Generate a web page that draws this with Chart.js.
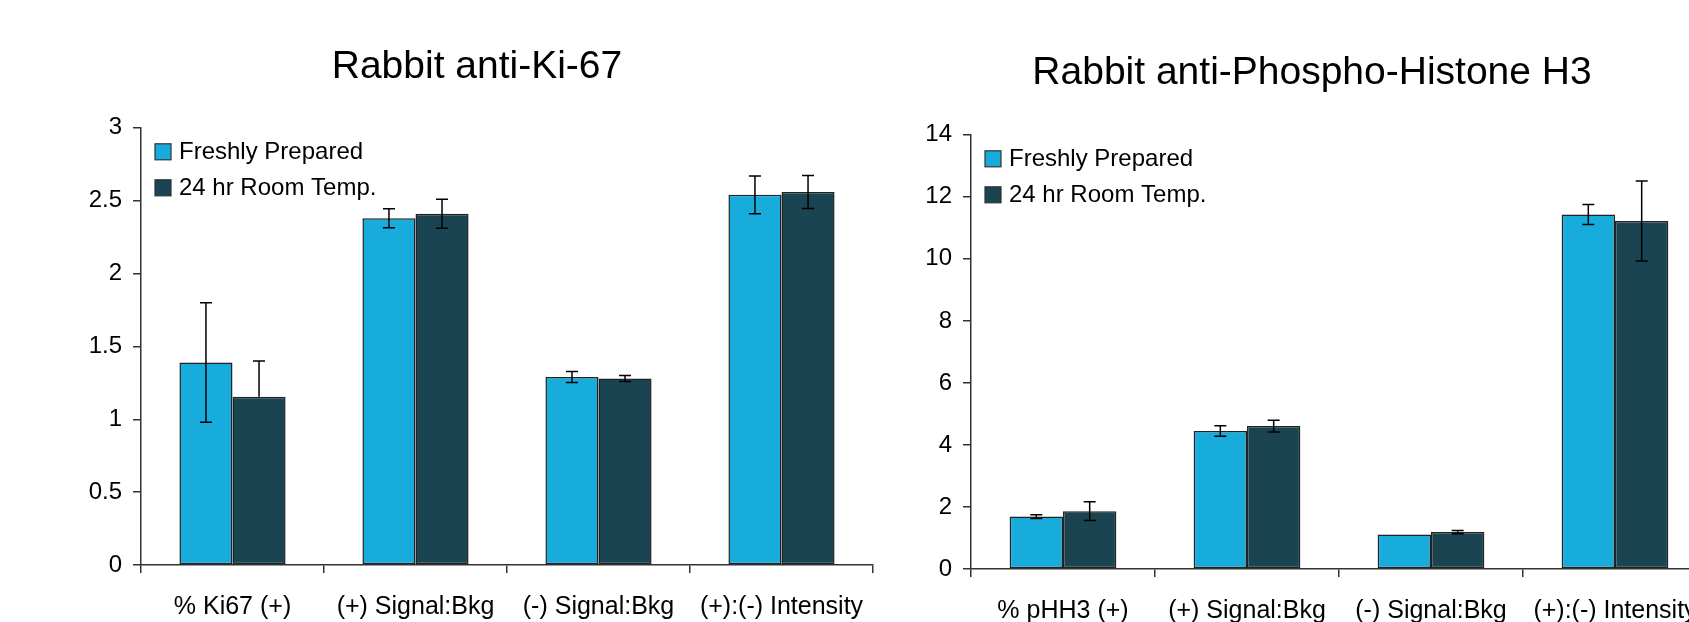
<!DOCTYPE html>
<html>
<head>
<meta charset="utf-8">
<script src="https://cdn.jsdelivr.net/npm/chart.js@4.4.1/dist/chart.umd.min.js"></script>
<style>
  html, body { margin: 0; padding: 0; background: #fff; overflow: hidden; }
  body { width: 1689px; height: 622px; position: relative; }
  canvas { position: absolute; top: 0; }
  #ki67 { left: 0; }
  #phh3 { left: 880px; }
</style>
</head>
<body>
<canvas id="ki67"></canvas>
<canvas id="phh3"></canvas>
<script>
// Ki-67 panel
const ki67Labels = ['% Ki67 (+)', '(+) Signal:Bkg', '(-) Signal:Bkg', '(+):(-) Intensity'];
const ki67Fresh = [1.39, 2.38, 1.29, 2.54];
const ki67FreshErrHi = [0.41, 0.065, 0.037, 0.13];
const ki67FreshErrLo = [0.41, 0.065, 0.037, 0.13];
const ki67Room = [1.155, 2.41, 1.28, 2.56];
const ki67RoomErrHi = [0.245, 0.10, 0.02, 0.113];
const ki67RoomErrLo = [0, 0.10, 0.02, 0.113];

// Phospho-Histone H3 panel
const phh3Labels = ['% pHH3 (+)', '(+) Signal:Bkg', '(-) Signal:Bkg', '(+):(-) Intensity'];
const phh3Fresh = [1.69, 4.45, 1.11, 11.43];
const phh3FreshErr = [0.06, 0.17, 0, 0.32];
const phh3Room = [1.865, 4.61, 1.19, 11.22];
const phh3RoomErr = [0.3, 0.19, 0.05, 1.29];

const seriesNames = ['Freshly Prepared', '24 hr Room Temp.'];
const FRESH_COLOR = '#17acdc';
const ROOM_COLOR = '#1a4451';
const FONT = '"Liberation Sans", Arial, sans-serif';

// error bars drawn on top of each bar
const errorBars = {
  id: 'errorBars',
  afterDatasetsDraw(chart) {
    const ctx = chart.ctx;
    const y = chart.scales.y;
    ctx.save();
    ctx.strokeStyle = '#000';
    ctx.lineWidth = 1.5;
    chart.data.datasets.forEach((ds, i) => {
      chart.getDatasetMeta(i).data.forEach((bar, j) => {
        const v = ds.data[j];
        const hi = ds.errHi[j], lo = ds.errLo[j];
        if (!hi && !lo) return;
        const yHi = y.getPixelForValue(v + hi);
        const yLo = y.getPixelForValue(v - lo);
        ctx.beginPath();
        ctx.moveTo(bar.x, yHi);
        ctx.lineTo(bar.x, yLo);
        if (hi) { ctx.moveTo(bar.x - 6, yHi); ctx.lineTo(bar.x + 6, yHi); }
        if (lo) { ctx.moveTo(bar.x - 6, yLo); ctx.lineTo(bar.x + 6, yLo); }
        ctx.stroke();
      });
    });
    ctx.restore();
  }
};

// legend sits inside the plot, top-left
const insideLegend = {
  id: 'insideLegend',
  afterDraw(chart) {
    const ctx = chart.ctx;
    const a = chart.chartArea;
    ctx.save();
    ctx.font = '24px ' + FONT;
    ctx.textBaseline = 'middle';
    chart.data.datasets.forEach((ds, i) => {
      const sx = a.left + 14, sy = a.top + 16 + i * 36;
      ctx.fillStyle = ds.backgroundColor;
      ctx.fillRect(sx, sy, 16, 16);
      ctx.strokeStyle = '#333';
      ctx.lineWidth = 1.2;
      ctx.strokeRect(sx, sy, 16, 16);
      ctx.fillStyle = '#000';
      ctx.fillText(ds.label, sx + 24, sy + 9);
    });
    ctx.restore();
  }
};

function makeChart(id, title, labels, fresh, freshHi, freshLo, room, roomHi, roomLo, yMax, step, geo) {
  const canvas = document.getElementById(id);
  canvas.width = geo.width;
  canvas.height = 622;
  return new Chart(canvas, {
    type: 'bar',
    data: {
      labels: labels,
      datasets: [
        { label: seriesNames[0], data: fresh, errHi: freshHi, errLo: freshLo,
          backgroundColor: FRESH_COLOR },
        { label: seriesNames[1], data: room, errHi: roomHi, errLo: roomLo,
          backgroundColor: ROOM_COLOR }
      ]
    },
    options: {
      responsive: false,
      animation: false,
      layout: { padding: { left: geo.padLeft, right: geo.padRight, top: 0, bottom: 0 } },
      datasets: {
        bar: {
          categoryPercentage: 0.58,
          barPercentage: 1.0,
          borderColor: '#222',
          borderWidth: 1.5,
          borderSkipped: false
        }
      },
      plugins: {
        legend: { display: false },
        tooltip: { enabled: false },
        title: {
          display: true,
          text: title,
          color: '#000',
          font: { family: FONT, size: 39, weight: 'normal' },
          padding: { top: geo.titleTop, bottom: geo.titleBottom }
        }
      },
      scales: {
        x: {
          grid: { drawOnChartArea: false, tickLength: 8, color: '#333', lineWidth: 1.5 },
          border: { color: '#333', width: 1.5 },
          ticks: { color: '#000', padding: 19, maxRotation: 0, font: { family: FONT, size: 25 } },
          afterFit(scale) {
            scale.height = geo.xHeight;
            // labels may run past the last category, keep the plot width fixed
            scale.paddingLeft = 0;
            scale.paddingRight = 0;
          }
        },
        y: {
          min: 0,
          max: yMax,
          ticks: {
            stepSize: step,
            color: '#000',
            padding: 11,
            font: { family: FONT, size: 24 },
            callback: v => String(Math.round(v * 10) / 10)
          },
          grid: { drawOnChartArea: false, tickLength: 8, color: '#333', lineWidth: 1.5 },
          border: { color: '#333', width: 1.5 },
          afterFit(scale) { scale.width = geo.yWidth; }
        }
      }
    },
    plugins: [errorBars, insideLegend]
  });
}

makeChart('ki67', 'Rabbit anti-Ki-67', ki67Labels,
  ki67Fresh, ki67FreshErrHi, ki67FreshErrLo, ki67Room, ki67RoomErrHi, ki67RoomErrLo, 3, 0.5,
  { width: 876, padLeft: 81, padRight: 3, yWidth: 60, titleTop: 44, titleBottom: 37, xHeight: 57 });

makeChart('phh3', 'Rabbit anti-Phospho-Histone H3', phh3Labels,
  phh3Fresh, phh3FreshErr, phh3FreshErr, phh3Room, phh3RoomErr, phh3RoomErr, 14, 2,
  { width: 830, padLeft: 37, padRight: 3, yWidth: 54, titleTop: 50, titleBottom: 38, xHeight: 53 });
</script>
</body>
</html>
